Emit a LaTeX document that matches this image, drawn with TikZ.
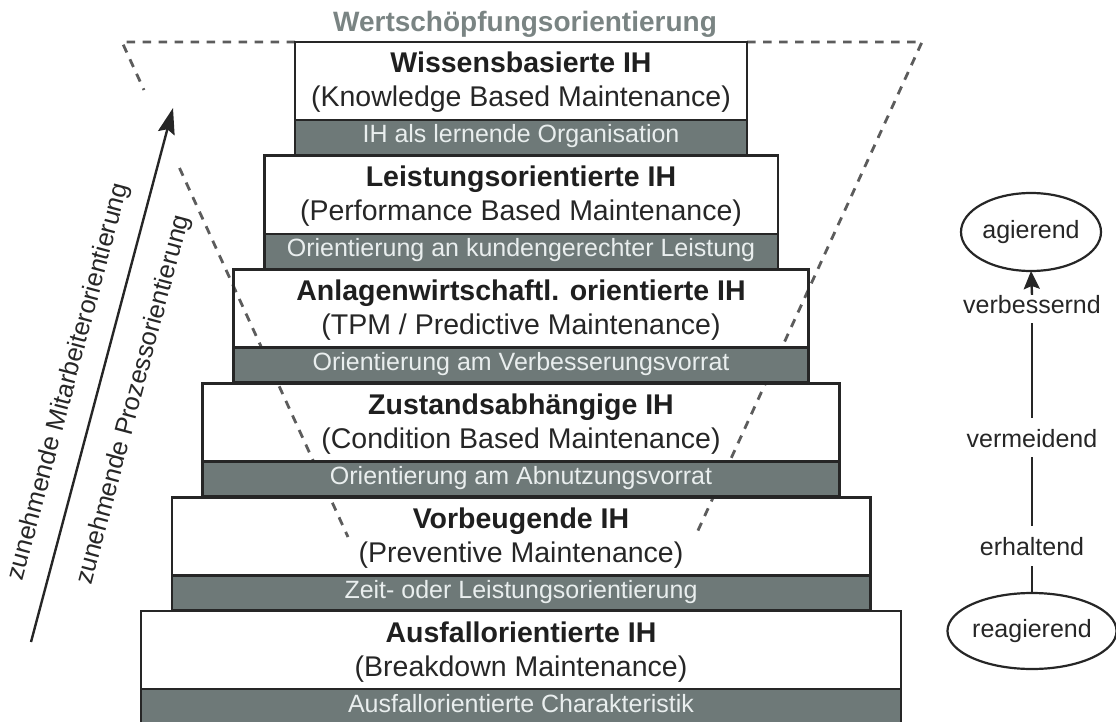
\documentclass[tikz,border=0pt]{standalone}
\usepackage{fontspec}
\setmainfont{Liberation Sans}
\usetikzlibrary{arrows.meta,shapes.geometric}
\definecolor{band}{HTML}{6E7978}
\definecolor{bandtext}{HTML}{E9EEEE}
\definecolor{edge}{HTML}{262626}
\definecolor{funnelgray}{HTML}{5C5C5C}
\definecolor{heading}{HTML}{7A8483}
\pgfdeclarelayer{background}
\pgfsetlayers{background,main}

% one level of the staircase: white box, grey band and their texts
% #1 name, #2 top edge, #3 width, #4 title, #5 subtitle, #6 band text
\newcommand{\ihlevel}[6]{%
  \node[whitebox, minimum width=#3pt] (w#1) at (521,#2) {};
  \node[bandbox, minimum width=#3pt] (b#1) at (w#1.south) {};
  \node[titletext] (t#1) at (521,{#2+31}) {#4};
  \node[subtext] (s#1) at (521,{#2+65}) {#5};
  \node[bandlabel] (l#1) at (521,{#2+101}) {#6};
}

\begin{document}
\begin{tikzpicture}[x=1pt,y=-1pt,
  whitebox/.style={draw=edge, line width=2.6pt, fill=none, minimum height=78pt,
    anchor=north, inner sep=0pt, outer sep=0pt},
  bandbox/.style={draw=edge, line width=2.6pt, fill=band, minimum height=35pt,
    anchor=north, inner sep=0pt, outer sep=0pt},
  titletext/.style={anchor=base, inner sep=0pt, text=black!88,
    font=\fontsize{28.5}{34}\selectfont\bfseries},
  subtext/.style={anchor=base, inner sep=0pt, text=black!85,
    font=\fontsize{28.5}{34}\selectfont},
  bandlabel/.style={anchor=base, inner sep=0pt, text=bandtext,
    font=\fontsize{25}{30}\selectfont},
  sidetext/.style={inner sep=0pt, text=black!85, rotate=75.1,
    font=\fontsize{25.5}{30}\selectfont},
  stagetext/.style={anchor=base, inner sep=0pt, text=black!85,
    text height=18pt, text depth=0pt, font=\fontsize{25}{30}\selectfont},
  stageoval/.style={ellipse, draw=edge, line width=2.2pt, inner sep=0pt,
    outer sep=0pt, text=black!85, font=\fontsize{25}{30}\selectfont},
  funnelline/.style={draw=funnelgray, line width=2.8pt, dash pattern=on 8.5pt off 7.5pt},
  link/.style={draw=edge, line width=2.4pt},
]
\useasboundingbox (0,0) rectangle (1116,722);

% staircase of maintenance strategies
\ihlevel{1}{42}{452}{Wissensbasierte IH}{(Knowledge Based Maintenance)}{IH als lernende Organisation}
\ihlevel{2}{155.8}{513.6}{Leistungsorientierte IH}{(Performance Based Maintenance)}{Orientierung an kundengerechter Leistung}
\ihlevel{3}{269.6}{575.2}{Anlagenwirtschaftl. orientierte IH}{(TPM / Predictive Maintenance)}{Orientierung am Verbesserungsvorrat}
\ihlevel{4}{383.4}{636.8}{Zustandsabhängige IH}{(Condition Based Maintenance)}{Orientierung am Abnutzungsvorrat}
\ihlevel{5}{497.2}{698.4}{Vorbeugende IH}{(Preventive Maintenance)}{Zeit- oder Leistungsorientierung}
\ihlevel{6}{611}{760}{Ausfallorientierte IH}{(Breakdown Maintenance)}{Ausfallorientierte Charakteristik}

% heading above the funnel
\node[anchor=base, inner sep=0pt, text=heading,
  font=\fontsize{28}{32}\selectfont\bfseries] (head) at (525,32) {Wertschöpfungsorientierung};

% dashed funnel behind the staircase
\coordinate (fl) at (122,42);
\coordinate (fr) at (922,42);
\coordinate (fla) at (144,90);
\coordinate (flb) at (179.5,168);
\coordinate (flc) at (348,537);
\coordinate (frc) at (695,537);
\begin{pgfonlayer}{background}
  \draw[funnelline] (w1.north west) -- (fl) -- (fla);
  \draw[funnelline] (flb) -- (flc);
  \draw[funnelline] (w1.north east) -- (fr) -- (frc);
\end{pgfonlayer}

% rising arrow with its two labels
\coordinate (ar0) at (31,642);
\coordinate (ar1) at (173,108);
\draw[link, -{Stealth[length=26pt,width=17pt,inset=4pt]}] (ar0) -- (ar1);
\node[sidetext] (lm) at (69,382) {zunehmende Mitarbeiterorientierung};
\node[sidetext] (lp) at (134,400) {zunehmende Prozessorientierung};

% scale from reacting to acting
\node[stageoval, minimum width=140pt, minimum height=78pt] (ag) at (1031,232) {agierend};
\node[stagetext] (vb) at (1032,313) {verbessernd};
\node[stagetext] (vm) at (1032,447) {vermeidend};
\node[stagetext] (eh) at (1032,555) {erhaltend};
\node[stageoval, minimum width=150pt, minimum height=76pt] (re) at (1032,631) {reagierend};
\draw[link, -{Stealth[length=18pt,width=16pt,inset=3pt]}] (vb.north) -- (ag.south);
\draw[link, shorten <=11pt, shorten >=10pt] (vm) -- (vb);
\draw[link, shorten <=11pt, shorten >=10pt] (eh) -- (vm);
\draw[link, shorten >=11pt] (re) -- (eh);
\end{tikzpicture}
\end{document}
